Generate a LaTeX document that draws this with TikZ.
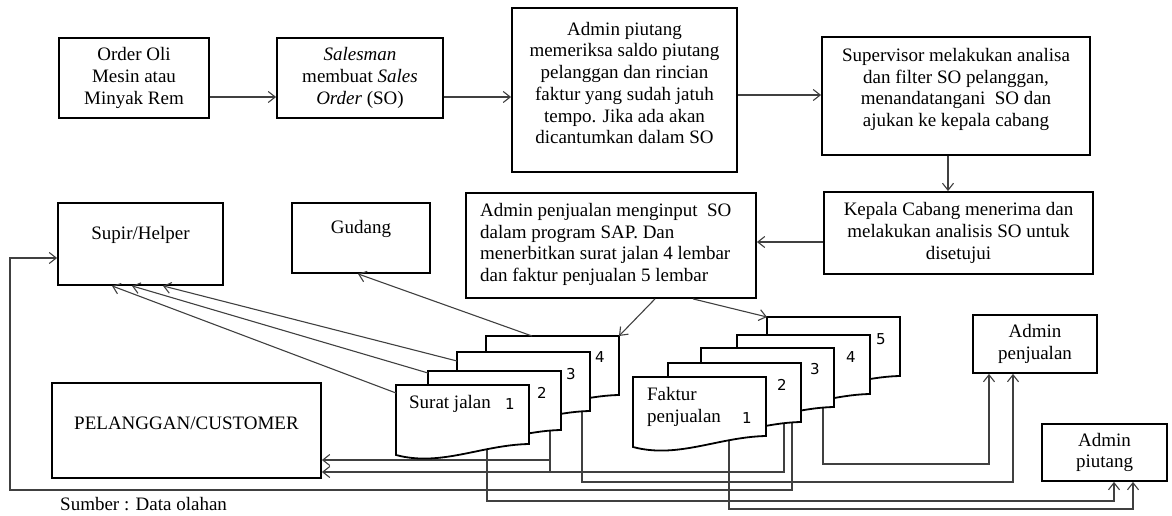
\documentclass[tikz,border=0pt]{standalone}
\usepackage{fontspec}
\setmainfont{Liberation Serif}
\newfontfamily\angka{DejaVu Sans}
\usetikzlibrary{arrows.meta}
\pgfdeclarelayer{belakang}
\pgfsetlayers{belakang,main}

\tikzset{
  kotak/.style={draw, line width=1.8pt, inner sep=0pt, align=center, font=\fontsize{19}{21.7}\selectfont},
  teks/.style={inner sep=0pt, align=center, font=\fontsize{19}{21.7}\selectfont},
  nomor/.style={inner sep=0pt, font=\angka\fontsize{15}{17}\selectfont},
  halaman/.style={draw, fill=white, line width=1.8pt},
  panah/.style={draw=black!75, line width=1.1pt, -{Straight Barb[length=7pt,width=11pt]}},
  garis/.style={draw=black!75, line width=1.1pt},
}

% lembar dokumen: nama, x, y, nomor, tinggi nomor
\newcommand{\lembar}[5]{%
  \begin{scope}[shift={(#2,#3)}]
    \draw[halaman] (0,0) -- (133,0) -- (133,59) .. controls (85,60) and (45,82) .. (0,70) -- cycle;
    \coordinate (#1-nw) at (0,0);
    \coordinate (#1-ne) at (133,0);
    \coordinate (#1-in) at (66.5,30);
    \node[nomor] (#1-no) at (114,#5) {#4};
  \end{scope}}

\begin{document}
\begin{tikzpicture}[x=1pt,y=-1pt]
    \useasboundingbox (0,0) rectangle (1172,516);

    %%%%%%%%%% Kotak %%%%%%%%%%
    \node[kotak, minimum width=150pt, minimum height=80pt] (order) at (134,78) {Order Oli\\Mesin atau\\Minyak Rem};
    \node[kotak, minimum width=166pt, minimum height=80pt] (sales) at (360,78) {\textit{Salesman}\\membuat \textit{Sales}\\\textit{Order} (SO)};
    \node[kotak, minimum width=225pt, minimum height=164pt] (piutang) at (624.5,90) {};
    \node[teks] (piutang-t) at (624.5,83) {Admin piutang\\memeriksa saldo piutang\\pelanggan dan rincian\\faktur yang sudah jatuh\\tempo. Jika ada akan\\dicantumkan dalam SO};
    \node[kotak, minimum width=268pt, minimum height=118pt] (super) at (956,96) {};
    \node[teks] (super-t) at (956,89.5) {Supervisor melakukan analisa\\dan filter SO pelanggan,\\menandatangani\ \ SO dan\\ajukan ke kepala cabang};
    \node[kotak, minimum width=269pt, minimum height=82pt] (kepala) at (958.5,233) {Kepala Cabang menerima dan\\melakukan analisis SO untuk\\disetujui};
    \node[kotak, minimum width=290pt, minimum height=105pt] (input) at (611,245.5) {};
    \node[teks, align=left, anchor=west] (input-t) at (480,244.5) {Admin penjualan menginput\ \ SO\\dalam program SAP. Dan\\menerbitkan surat jalan 4 lembar\\dan faktur penjualan 5 lembar};
    \node[kotak, minimum width=165pt, minimum height=82pt] (supir) at (140.5,244) {};
    \node[teks] (supir-t) at (140.5,235) {Supir/Helper};
    \node[kotak, minimum width=138pt, minimum height=70pt] (gudang) at (361,238) {};
    \node[teks] (gudang-t) at (361,229) {Gudang};
    \node[kotak, minimum width=269pt, minimum height=95pt] (pelanggan) at (186.5,430.5) {};
    \node[teks] (pelanggan-t) at (186.5,423) {PELANGGAN/CUSTOMER};
    \node[kotak, minimum width=124pt, minimum height=58pt] (apenj) at (1035,344) {Admin\\penjualan};
    \node[kotak, minimum width=125pt, minimum height=57pt] (apiut) at (1104.5,452.5) {Admin\\piutang};
    \node[teks, anchor=west] (sumber) at (60,504) {Sumber : Data olahan};
    \coordinate (keliling) at (10,490);

    %%%%%%%%%% Dokumen %%%%%%%%%%
    \lembar{sj4}{486}{336}{4}{21}
    \lembar{sj3}{457}{352}{3}{22}
    \lembar{sj2}{428}{371}{2}{22}
    \lembar{sj1}{396}{385}{1}{19}
    \node[teks] (sj1-t) at (450,404) {Surat jalan};

    \lembar{fk5}{767}{317}{5}{22}
    \lembar{fk4}{737}{335}{4}{22}
    \lembar{fk3}{701}{348}{3}{21}
    \lembar{fk2}{668}{363}{2}{22}
    \lembar{fk1}{633}{377}{1}{41}
    \node[teks, align=left] (fk1-t) at (684,407) {Faktur\\penjualan};

    %%%%%%%%% Panah %%%%%%%%%
    \draw[panah] ([yshift=-19pt]order.east) -- ([yshift=-19pt]sales.west);
    \draw[panah] ([yshift=-19pt]sales.east) -- ([yshift=-7pt]piutang.west);
    \draw[panah] ([yshift=-5pt]piutang.east) -- ([yshift=1pt]super.west);
    \draw[panah] ([xshift=-8pt]super.south) -- ([xshift=-10.5pt]kepala.north);
    \draw[panah] ([yshift=-9pt]kepala.west) -- ([yshift=3.5pt]input.east);
    \draw[panah] ([xshift=44pt]input.south) -- (sj4-ne);
    \draw[panah] ([xshift=82pt]input.south) -- (fk5-nw);
    \draw[panah] ([xshift=46pt]sj4-nw) -- ([xshift=-3pt]gudang.south);
    \draw[panah] ([yshift=-9pt]sj3-nw) -- ([xshift=22.5pt]supir.south);
    \draw[panah] ([yshift=-2pt]sj2-nw) -- ([xshift=-8.5pt]supir.south);
    \draw[panah] ([yshift=-8pt]sj1-nw) -- ([xshift=-28.5pt]supir.south);

    \begin{pgfonlayer}{belakang}
    \draw[panah] ([xshift=55.5pt]sj2-in) |- ([yshift=-29.5pt]pelanggan.east);
    \draw[garis] ([xshift=55.5pt]sj2-in) -- ++(0,71);
    \draw[panah] ([xshift=49.5pt]fk2-in) |- ([yshift=-41.5pt]pelanggan.east);
    \draw[panah] ([xshift=57.5pt]fk2-in) |- (keliling) |- ([yshift=-14pt]supir.west);
    \draw[panah] ([xshift=58.5pt]sj3-in) -- ++(0,100) -| ([xshift=-22pt]apenj.south);
    \draw[panah] ([xshift=55.5pt]fk3-in) -- ++(0,86) -| ([xshift=-46pt]apenj.south);
    \draw[panah] ([xshift=24.5pt]sj1-in) -- ++(0,86) -| ([xshift=9.5pt]apiut.south);
    \draw[panah] ([xshift=29.5pt]fk1-in) -- ++(0,102) -| ([xshift=28.5pt]apiut.south);
    \end{pgfonlayer}
\end{tikzpicture}
\end{document}
